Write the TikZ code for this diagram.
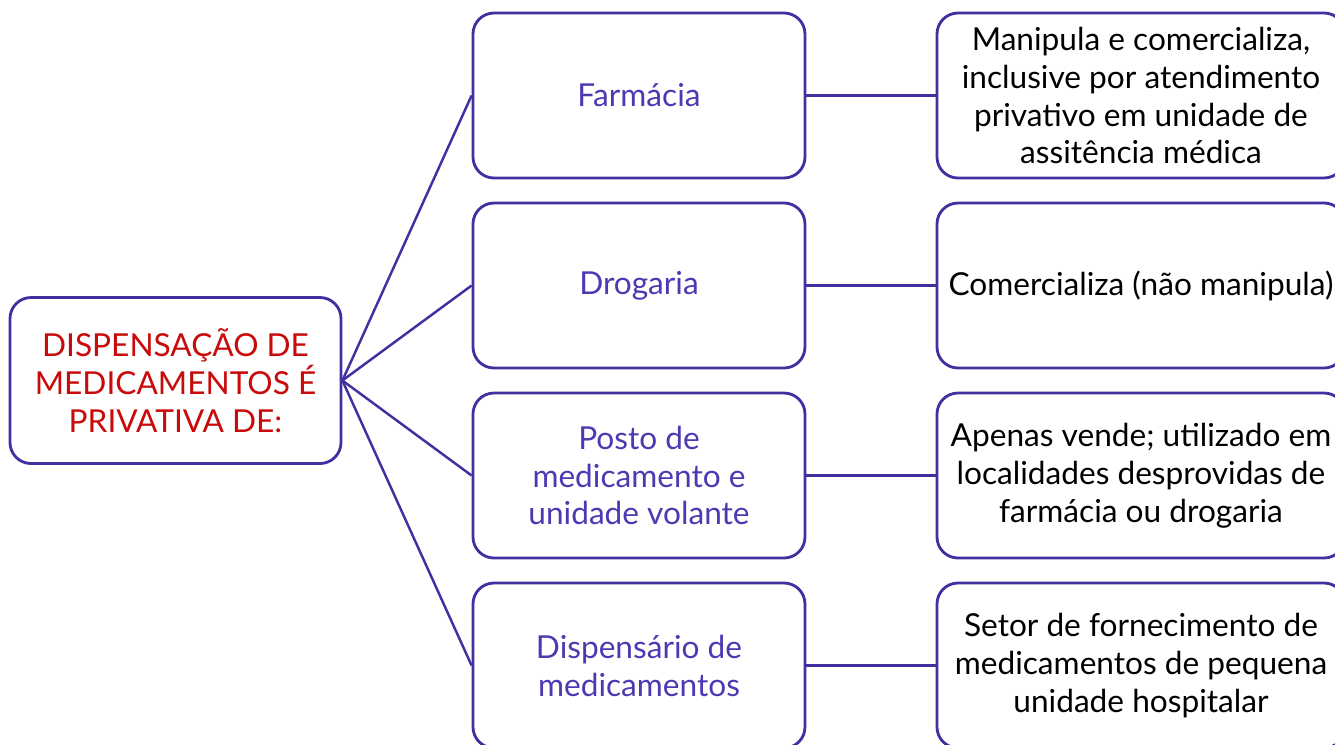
\documentclass[tikz,border=0pt]{standalone}
\usepackage{fontspec}
\setmainfont{Lato}
\usepackage{tikz}
\usetikzlibrary{shapes,arrows}
\usetikzlibrary{positioning,calc}

\definecolor{roxo}{RGB}{63,49,160}
\definecolor{roxotexto}{RGB}{75,58,178}
\definecolor{vermelho}{RGB}{200,10,10}

\begin{document}
\begin{tikzpicture}[>=latex]

\tikzstyle{box} = [draw=roxo, line width=1.6pt, rounded corners=0.42cm, fill=white, rectangle, align=center, font={\fontsize{18}{21.6}\selectfont}, inner sep=0pt]
\tikzstyle{hub} = [box, minimum width=6.62cm, minimum height=3.32cm, text=vermelho]
\tikzstyle{tipo} = [box, minimum width=6.64cm, minimum height=3.3cm, text=roxotexto, node distance=3.8cm]
\tikzstyle{desc} = [box, minimum width=8.16cm, minimum height=3.3cm, text=black, node distance=10.04cm]
\tikzstyle{ligacao} = [draw=roxo, line width=1.4pt];

\useasboundingbox (0,0) rectangle (26.7,-14.88);

\node[tipo, name=farmacia] at (12.78,-1.91) {Farmácia};
\node[tipo, name=drogaria, below of=farmacia] {Drogaria};
\node[tipo, name=posto, below of=drogaria] {Posto de\\medicamento e\\unidade volante};
\node[tipo, name=dispensario, below of=posto] {Dispensário de\\medicamentos};

\node[desc, name=manipula, right of=farmacia] {Manipula e comercializa,\\inclusive por atendimento\\privativo em unidade de\\assitência médica};
\node[desc, name=comercializa, right of=drogaria] {Comercializa (não manipula)};
\node[desc, name=vende, right of=posto] {Apenas vende; utilizado em\\localidades desprovidas de\\farmácia ou drogaria};
\node[desc, name=setor, right of=dispensario] {Setor de fornecimento de\\medicamentos de pequena\\unidade hospitalar};

\node[hub, name=dispensacao] at ($(drogaria)!0.5!(posto)+(-9.27,0)$) {DISPENSAÇÃO DE\\MEDICAMENTOS É\\PRIVATIVA DE:};

\draw[ligacao] (dispensacao.east) -- (farmacia.west);
\draw[ligacao] (dispensacao.east) -- (drogaria.west);
\draw[ligacao] (dispensacao.east) -- (posto.west);
\draw[ligacao] (dispensacao.east) -- (dispensario.west);

\draw[ligacao] (farmacia) -- (manipula);
\draw[ligacao] (drogaria) -- (comercializa);
\draw[ligacao] (posto) -- (vende);
\draw[ligacao] (dispensario) -- (setor);
\end{tikzpicture}
\end{document}
